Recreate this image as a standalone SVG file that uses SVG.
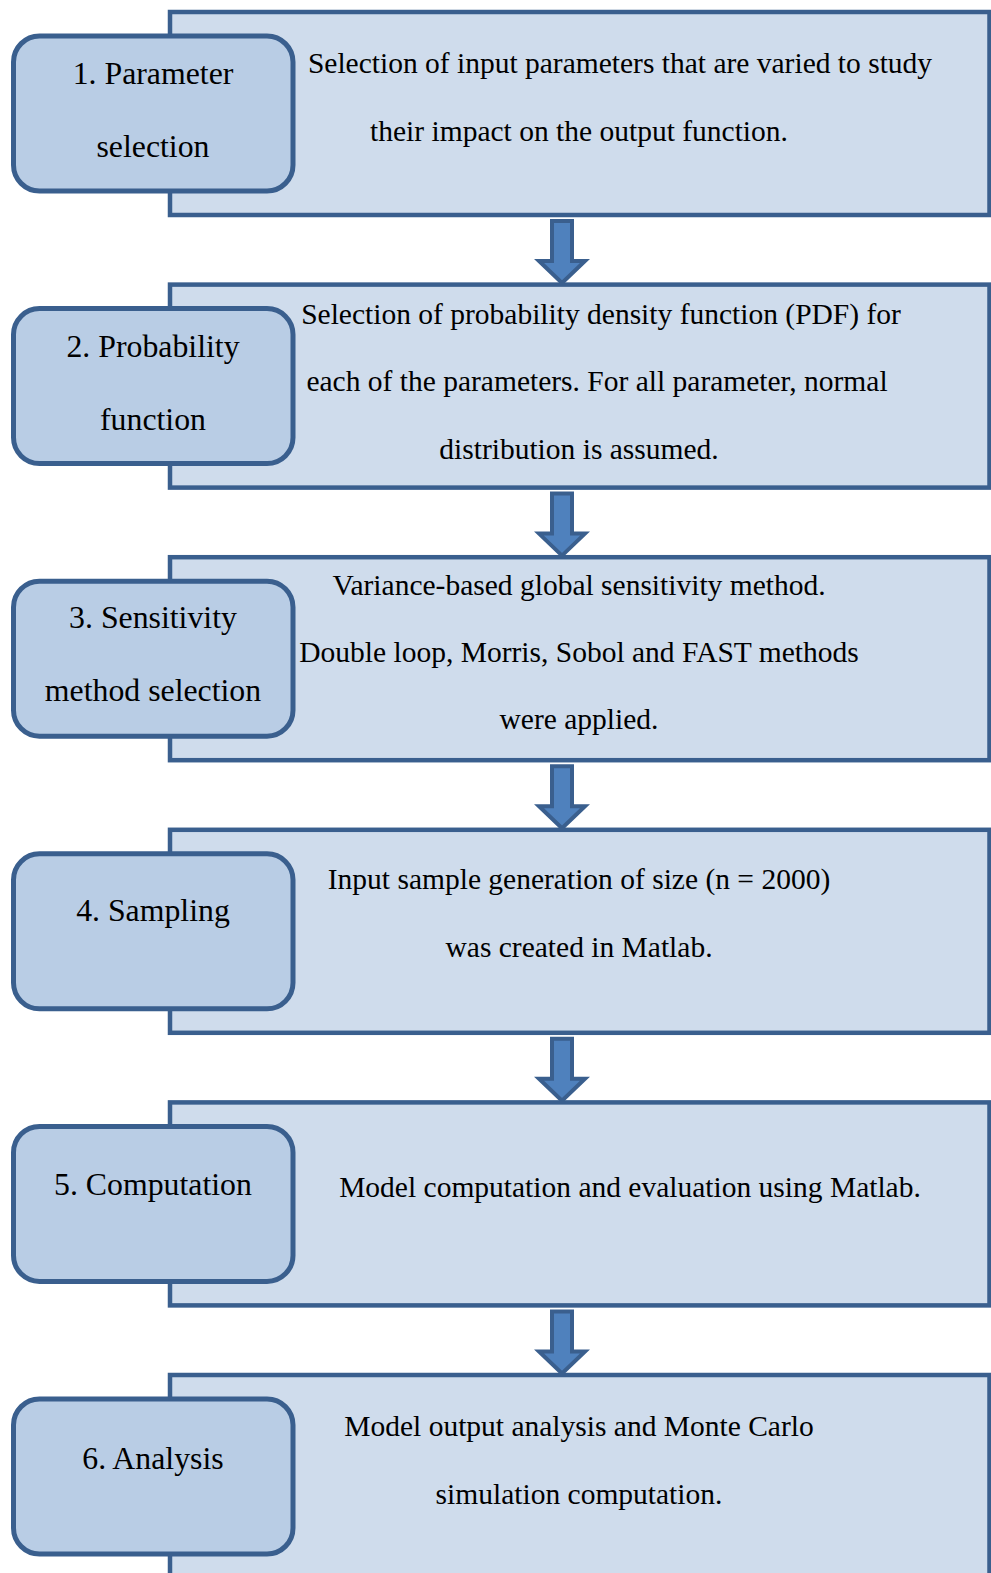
<svg xmlns="http://www.w3.org/2000/svg" width="991" height="1573" viewBox="0 0 991 1573">
<defs>
<style>
.box{fill:#cfdcec;stroke:#3a5f8e;stroke-width:4.5}
.node{fill:#b9cde5;stroke:#3a5f8e;stroke-width:5}
.arrow{fill:#4f81bd;stroke:#3a5f8e;stroke-width:4;stroke-linejoin:miter}
text{font-family:"Liberation Serif","Times New Roman",serif;font-size:29.5px;fill:#000;text-anchor:middle}
text.n{font-size:31.8px}
</style>
<path id="arr" class="arrow" d="M552,0 H572 V40 H585 L562,62 L539,40 H552 Z"/>
</defs>
<rect width="991" height="1573" fill="#fff"/>
<g id="connectors">
<use href="#arr" y="221"/>
<use href="#arr" y="493.6"/>
<use href="#arr" y="766.2"/>
<use href="#arr" y="1038.8"/>
<use href="#arr" y="1311.4"/>
</g>
<g id="step1">
<rect class="box" x="170" y="12" width="819.5" height="203"/>
<rect class="node" x="13.5" y="36" width="279.5" height="155" rx="26"/>
<text class="n" x="153" y="84">1. Parameter</text>
<text class="n" x="153" y="157">selection</text>
<text x="620" y="73">Selection of input parameters that are varied to study</text>
<text x="579" y="141">their impact on the output function.</text>
</g>
<g id="step2">
<rect class="box" x="170" y="284.6" width="819.5" height="203"/>
<rect class="node" x="13.5" y="308.6" width="279.5" height="155" rx="26"/>
<text class="n" x="153" y="357">2. Probability</text>
<text class="n" x="153" y="429.5">function</text>
<text x="601" y="324">Selection of probability density function (PDF) for</text>
<text x="597" y="391">each of the parameters. For all parameter, normal</text>
<text x="579" y="458.5">distribution is assumed.</text>
</g>
<g id="step3">
<rect class="box" x="170" y="557.2" width="819.5" height="203"/>
<rect class="node" x="13.5" y="581.2" width="279.5" height="155" rx="26"/>
<text class="n" x="153" y="628">3. Sensitivity</text>
<text class="n" x="153" y="701">method selection</text>
<text x="579" y="595">Variance-based global sensitivity method.</text>
<text x="579" y="662">Double loop, Morris, Sobol and FAST methods</text>
<text x="579" y="729">were applied.</text>
</g>
<g id="step4">
<rect class="box" x="170" y="829.8" width="819.5" height="203"/>
<rect class="node" x="13.5" y="853.8" width="279.5" height="155" rx="26"/>
<text class="n" x="153" y="921">4. Sampling</text>
<text x="579" y="889">Input sample generation of size (n = 2000)</text>
<text x="579" y="957">was created in Matlab.</text>
</g>
<g id="step5">
<rect class="box" x="170" y="1102.4" width="819.5" height="203"/>
<rect class="node" x="13.5" y="1126.4" width="279.5" height="155" rx="26"/>
<text class="n" x="153" y="1195">5. Computation</text>
<text x="630" y="1197">Model computation and evaluation using Matlab.</text>
</g>
<g id="step6">
<rect class="box" x="170" y="1375" width="819.5" height="203"/>
<rect class="node" x="13.5" y="1399" width="279.5" height="155" rx="26"/>
<text class="n" x="153" y="1469">6. Analysis</text>
<text x="579" y="1436">Model output analysis and Monte Carlo</text>
<text x="579" y="1504">simulation computation.</text>
</g>
</svg>
